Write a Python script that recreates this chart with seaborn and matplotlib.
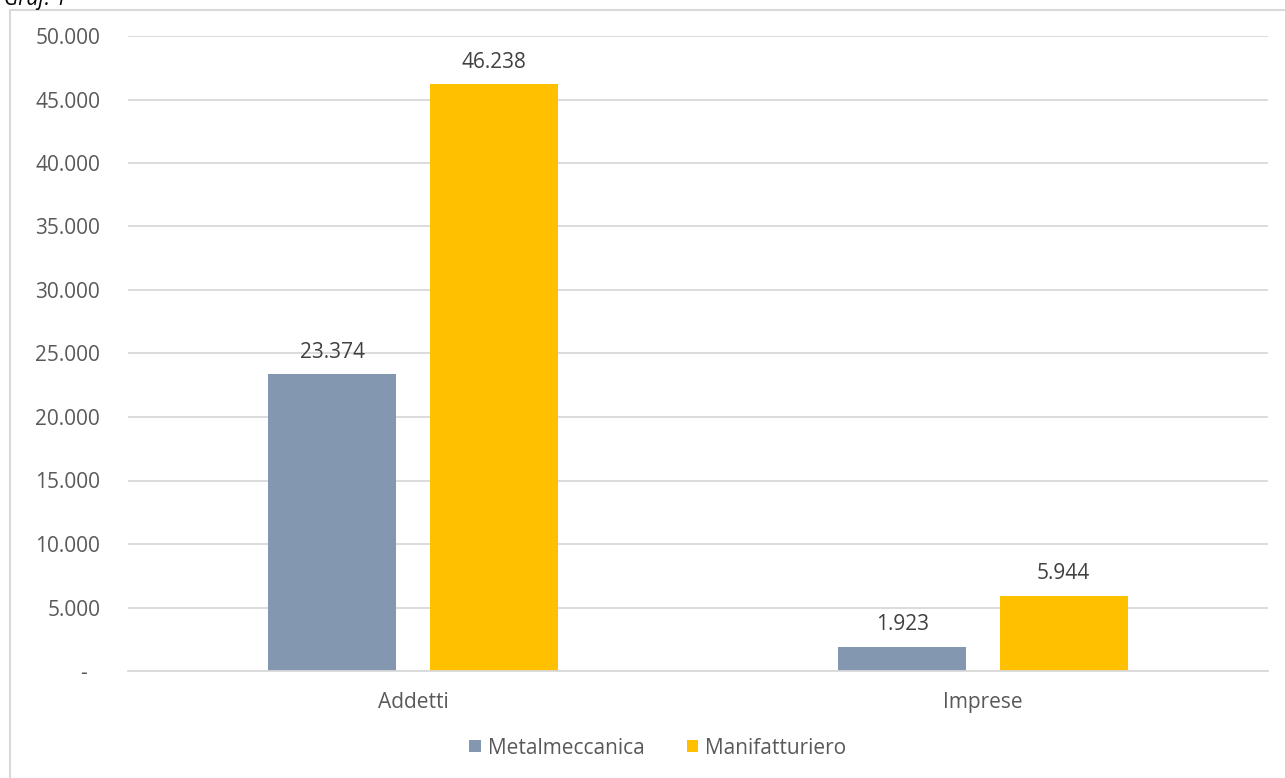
import matplotlib
matplotlib.use("Agg")
import matplotlib.pyplot as plt
import seaborn as sns
import pandas as pd
from matplotlib.patches import Rectangle
from matplotlib.ticker import FuncFormatter

categories = ["Addetti", "Imprese"]
series = ["Metalmeccanica", "Manifatturiero"]
metalmeccanica = [23374, 1923]
manifatturiero = [46238, 5944]
yticks = [0, 5000, 10000, 15000, 20000, 25000, 30000, 35000, 40000, 45000, 50000]

colors = {"Metalmeccanica": "#8497B0", "Manifatturiero": "#FFC000"}

df = pd.DataFrame({
    "categoria": categories * 2,
    "serie": [series[0]] * 2 + [series[1]] * 2,
    "valore": metalmeccanica + manifatturiero,
})

sns.set_theme(style="white")
plt.rcParams["font.family"] = ["Open Sans", "DejaVu Sans"]

FS = 15

fig = plt.figure(figsize=(12.85, 7.78), dpi=100)
ax = fig.add_axes([128 / 1285, 107 / 778, 1140 / 1285, 635 / 778])

sns.barplot(data=df, x="categoria", y="valore", hue="serie", order=categories,
            hue_order=series, palette=colors, width=0.565, gap=0.205,
            saturation=1, linewidth=0, ax=ax, legend=True)


def fmt(v):
    return f"{int(round(v)):,}".replace(",", ".")


for cont in ax.containers:
    labels = [fmt(b.get_height()) for b in cont]
    ax.bar_label(cont, labels=labels, padding=8, fontsize=FS, color="#404040")

ax.set_ylim(0, 50000)
ax.set_xlim(-0.5, 1.5)
ax.set_yticks(yticks)
ax.yaxis.set_major_formatter(FuncFormatter(lambda v, p: "-" if v == 0 else fmt(v)))
ax.yaxis.grid(True, color="#d9d9d9", linewidth=1.3)
ax.set_axisbelow(True)
for s in ["top", "right", "left"]:
    ax.spines[s].set_visible(False)
ax.spines["bottom"].set_color("#d9d9d9")
ax.spines["bottom"].set_linewidth(1.3)
ax.tick_params(axis="y", length=0, pad=20, labelsize=FS, labelcolor="#595959")
ax.tick_params(axis="x", length=0, pad=15, labelsize=FS, labelcolor="#595959")
for t in ax.get_yticklabels():
    t.set_horizontalalignment("right")
# the zero label sits a little further in, as in accounting format
ax.get_yticklabels()[0].set_x(-0.012)
ax.set_xlabel("")
ax.set_ylabel("")

handles, labs = ax.get_legend_handles_labels()
ax.legend(handles, labs, loc="center", bbox_to_anchor=(658 / 1285, 30 / 778),
          bbox_transform=fig.transFigure, ncol=2, frameon=False,
          fontsize=FS, labelcolor="#595959", handlelength=0.55, handleheight=0.55,
          handletextpad=0.35, columnspacing=2.0)

# chart frame
fig.patches.append(Rectangle((10 / 1285, -0.1), 1.2, (768 / 778) + 0.1,
                             transform=fig.transFigure, fill=False,
                             edgecolor="#d9d9d9", linewidth=1.5))
fig.text(4 / 1285, 1 - 5 / 778, "Graf. 1", fontsize=15, style="italic",
         color="#000000", ha="left", va="baseline")

fig.savefig("out.png", dpi=100)
